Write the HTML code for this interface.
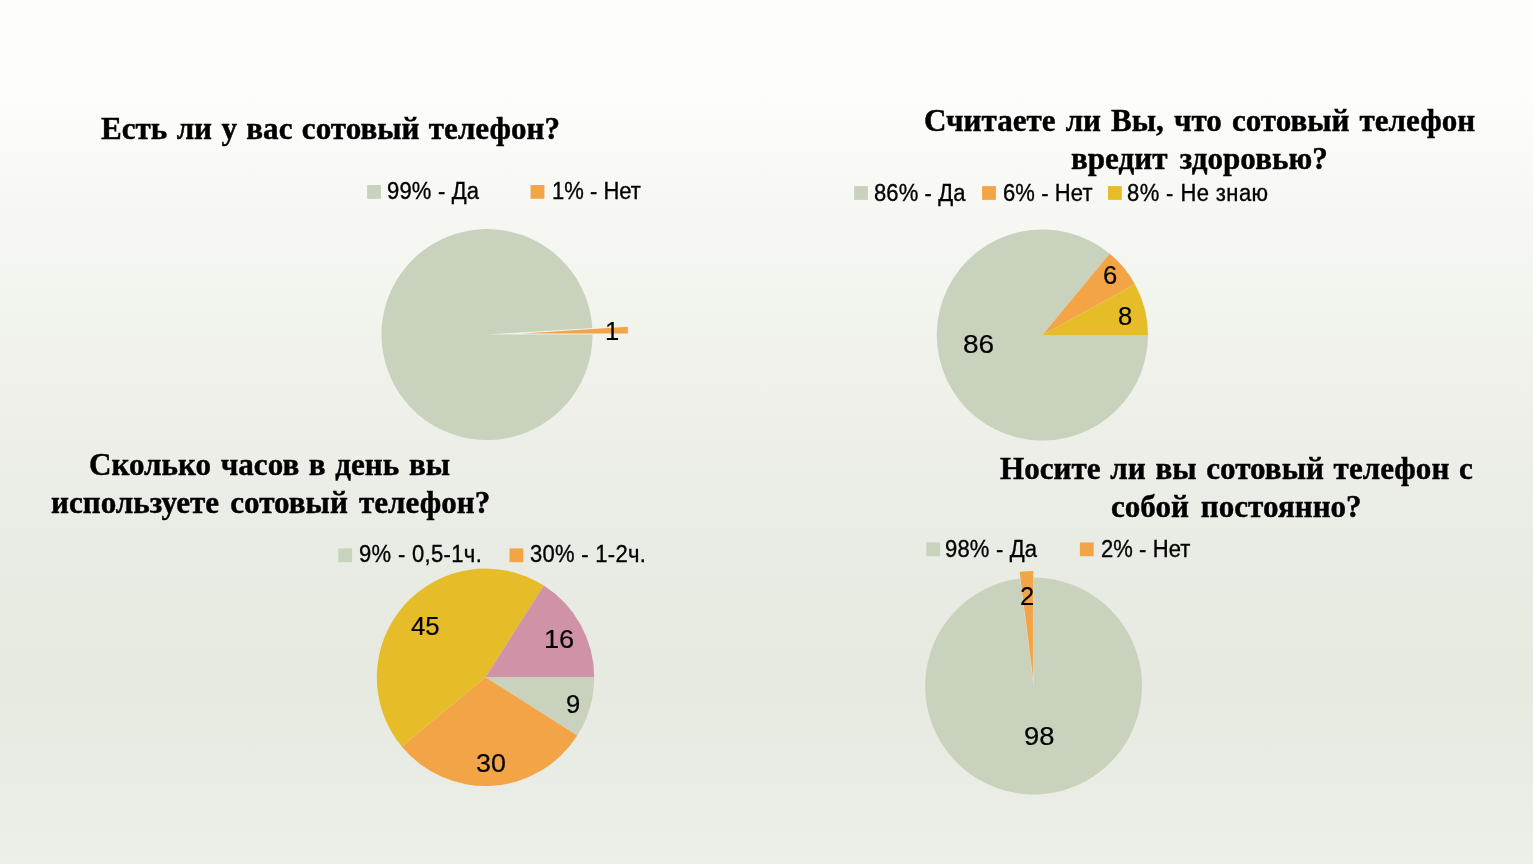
<!DOCTYPE html>
<html lang="ru"><head><meta charset="utf-8"><title>Опрос: сотовый телефон</title>
<style>
html,body{margin:0;padding:0}
body{width:1533px;height:864px;overflow:hidden;position:relative;
background:linear-gradient(to bottom,#fdfdfc 0px,#fdfdfc 92px,#f7f8f4 200px,#f2f4ee 300px,#eef0e9 400px,#e9ece4 540px,#e7eae1 680px,#e9ece4 770px,#edf0e9 864px);
font-family:"Liberation Sans",sans-serif;color:#000}
svg{position:absolute;left:0;top:0}
.t,.l,.d{position:absolute;white-space:nowrap;line-height:1;margin:0}
.t{font-family:"Liberation Serif",serif;font-weight:bold;font-size:32px;transform:scaleX(0.972);transform-origin:0 0;-webkit-text-stroke:0.45px #000}
.l{font-size:23.3px;transform:scaleX(0.944);transform-origin:0 0;-webkit-text-stroke:0.35px #000}
.d{font-size:26.4px;transform:scaleX(0.97);transform-origin:0 0;-webkit-text-stroke:0.2px #000}
</style></head><body>
<svg width="1533" height="864" viewBox="0 0 1533 864">
<path d="M487.00 334.50L592.50 334.50A105.5 105.5 0 1 1 592.29 327.88Z" fill="#c8d2bc"/>
<path d="M522.48 333.38L627.77 326.76A105.5 105.5 0 0 1 627.98 333.38Z" fill="#f3a447"/>
<path d="M1042.40 335.00L1148.00 335.00A105.6 105.6 0 1 1 1109.71 253.63Z" fill="#c8d2bc"/>
<path d="M1042.40 335.00L1109.71 253.63A105.6 105.6 0 0 1 1134.94 284.13Z" fill="#f3a447"/>
<path d="M1042.40 335.00L1134.94 284.13A105.6 105.6 0 0 1 1148.00 335.00Z" fill="#e7bc29"/>
<path d="M485.50 677.30L594.20 677.30A108.7 108.7 0 0 1 577.28 735.54Z" fill="#c8d2bc"/>
<path d="M485.50 677.30L577.28 735.54A108.7 108.7 0 0 1 401.75 746.59Z" fill="#f3a447"/>
<path d="M485.50 677.30L401.75 746.59A108.7 108.7 0 0 1 543.74 585.52Z" fill="#e7bc29"/>
<path d="M485.50 677.30L543.74 585.52A108.7 108.7 0 0 1 594.20 677.30Z" fill="#d092a7"/>
<path d="M1033.60 686.00L1033.60 577.60A108.4 108.4 0 1 1 1020.01 578.45Z" fill="#c8d2bc"/>
<path d="M1033.19 679.51L1019.61 571.97A108.4 108.4 0 0 1 1033.19 571.11Z" fill="#f3a447"/>
<rect x="367.1" y="185.0" width="13.8" height="13.8" fill="#c8d2bc"/>
<rect x="530.6" y="185.0" width="13.8" height="13.8" fill="#f3a447"/>
<rect x="854.1" y="186.1" width="13.8" height="13.8" fill="#c8d2bc"/>
<rect x="982.1" y="186.1" width="13.8" height="13.8" fill="#f3a447"/>
<rect x="1108.0" y="186.1" width="13.8" height="13.8" fill="#e7bc29"/>
<rect x="338.3" y="548.4" width="13.8" height="13.8" fill="#c8d2bc"/>
<rect x="509.5" y="548.4" width="13.8" height="13.8" fill="#f3a447"/>
<rect x="926.3" y="542.4" width="13.8" height="13.8" fill="#c8d2bc"/>
<rect x="1079.9" y="542.4" width="13.8" height="13.8" fill="#f3a447"/>
</svg>
<div class="t" style="left:100.85px;top:112.39px;word-spacing:1.638px">Есть ли у вас сотовый телефон?</div>
<div class="t" style="left:923.63px;top:104.49px;word-spacing:2.322px">Считаете ли Вы, что сотовый телефон</div>
<div class="t" style="left:1071.05px;top:142.19px;word-spacing:4.770px">вредит здоровью?</div>
<div class="t" style="left:89.21px;top:447.69px;word-spacing:1.935px">Сколько часов в день вы</div>
<div class="t" style="left:51.16px;top:485.69px;word-spacing:3.510px">используете сотовый телефон?</div>
<div class="t" style="left:1000.48px;top:452.49px;word-spacing:2.034px">Носите ли вы сотовый телефон с</div>
<div class="t" style="left:1111.00px;top:490.39px;word-spacing:4.140px">собой постоянно?</div>
<div class="l" style="left:386.82px;top:180.21px;letter-spacing:0.206px">99% - Да</div>
<div class="l" style="left:552.03px;top:180.21px;letter-spacing:0.013px">1% - Нет</div>
<div class="l" style="left:873.82px;top:182.41px;letter-spacing:0.129px">86% - Да</div>
<div class="l" style="left:1002.66px;top:182.41px;letter-spacing:0.103px">6% - Нет</div>
<div class="l" style="left:1127.45px;top:182.41px;letter-spacing:0.434px">8% - Не знаю</div>
<div class="l" style="left:358.50px;top:542.51px;letter-spacing:0.360px">9% - 0,5-1ч.</div>
<div class="l" style="left:530.24px;top:542.51px;letter-spacing:0.315px">30% - 1-2ч.</div>
<div class="l" style="left:945.29px;top:537.91px;letter-spacing:0.206px">98% - Да</div>
<div class="l" style="left:1100.66px;top:537.91px;letter-spacing:0.077px">2% - Нет</div>
<div class="d" style="left:604.92px;top:318.41px">1</div>
<div class="d" style="left:963.03px;top:331.41px;transform:scaleX(1.0608)">86</div>
<div class="d" style="left:1102.61px;top:261.51px">6</div>
<div class="d" style="left:1118.08px;top:303.11px">8</div>
<div class="d" style="left:411.35px;top:613.31px;transform:scaleX(0.9794)">45</div>
<div class="d" style="left:543.92px;top:626.31px;transform:scaleX(1.0279)">16</div>
<div class="d" style="left:566.03px;top:691.41px">9</div>
<div class="d" style="left:476.24px;top:750.01px;transform:scaleX(1.0159)">30</div>
<div class="d" style="left:1019.87px;top:582.51px">2</div>
<div class="d" style="left:1024.08px;top:723.11px;transform:scaleX(1.0372)">98</div>
</body></html>
